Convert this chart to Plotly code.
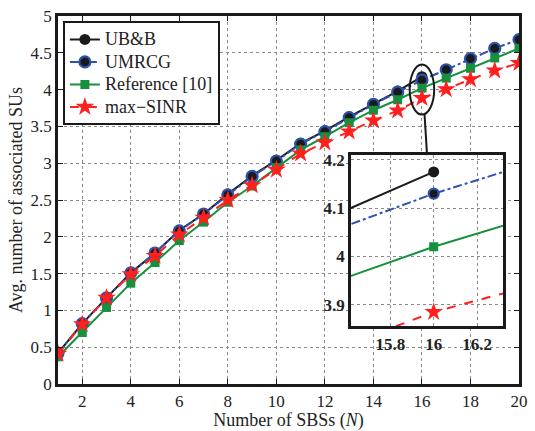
import plotly.graph_objects as go

N_all = list(range(1, 21))
N_ubb = list(range(1, 17))

ubb = [0.42, 0.82, 1.17, 1.51, 1.78, 2.09, 2.31, 2.58, 2.83, 3.04, 3.27, 3.44, 3.63, 3.81, 3.98, 4.175]
umrcg = [0.42, 0.82, 1.17, 1.51, 1.78, 2.08, 2.31, 2.57, 2.82, 3.03, 3.26, 3.43, 3.62, 3.80, 3.965, 4.13, 4.27, 4.42, 4.56, 4.68]
ref10 = [0.37, 0.70, 1.04, 1.37, 1.65, 1.95, 2.20, 2.47, 2.69, 2.94, 3.18, 3.36, 3.55, 3.72, 3.862, 4.02, 4.156, 4.29, 4.43, 4.56]
maxsinr = [0.41, 0.81, 1.17, 1.49, 1.74, 2.03, 2.26, 2.50, 2.70, 2.91, 3.13, 3.28, 3.43, 3.58, 3.715, 3.885, 4.005, 4.14, 4.26, 4.36]

x_ticks = [2, 4, 6, 8, 10, 12, 14, 16, 18, 20]
y_ticks = [0, 0.5, 1, 1.5, 2, 2.5, 3, 3.5, 4, 4.5, 5]
inset_xticks = [15.8, 16, 16.2]
inset_yticks = [3.9, 4, 4.1, 4.2]
inset_xrange = [15.618, 16.32]
inset_yrange = [3.855, 4.211]

BLACK = "#1a1a1a"
BLUE = "#2f52aa"
GREEN = "#14903e"
RED = "#ff1f1f"
SERIF = "Liberation Serif"

series = [
    ("UB&B", N_ubb, ubb, dict(color=BLACK, width=2, dash="solid"),
     dict(symbol="circle", size=11, color=BLACK, line=dict(width=0))),
    ("UMRCG", N_all, umrcg, dict(color=BLUE, width=2, dash="dashdot"),
     dict(symbol="circle", size=11, color=BLACK, line=dict(width=2.2, color=BLUE))),
    ("Reference [10]", N_all, ref10, dict(color=GREEN, width=2, dash="solid"),
     dict(symbol="square", size=9, color=GREEN, line=dict(width=0))),
    ("max\u2212SINR", N_all, maxsinr, dict(color=RED, width=2, dash="dash"),
     dict(symbol="star", size=14, color=RED, line=dict(width=0))),
]

fig = go.Figure()
for name, xs, ys, ln, mk in series:
    label = '<span style="font-size:18px">' + name.replace("&", "&amp;") + "</span>"
    fig.add_trace(go.Scatter(x=xs, y=ys, name=label, mode="lines+markers",
                             line=ln, marker=mk, xaxis="x", yaxis="y"))
for name, xs, ys, ln, mk in series:
    mk2 = dict(mk)
    if name == "UMRCG":
        mk2 = dict(symbol="circle", size=10, color=BLACK, line=dict(width=2.2, color=BLUE))
    fig.add_trace(go.Scatter(x=xs, y=ys, name=name, mode="lines+markers",
                             line=ln, marker=mk2, xaxis="x2", yaxis="y2",
                             showlegend=False))

axis_common = dict(showline=True, linecolor=BLACK, mirror="ticks", ticks="inside",
                   tickcolor=BLACK, showgrid=True, gridcolor="#8a8a8a", griddash="dot",
                   gridwidth=1, zeroline=False,
                   tickfont=dict(family=SERIF, size=17, color="#222"))

fig.update_layout(
    width=535, height=431,
    margin=dict(l=58, r=7, t=13, b=47),
    paper_bgcolor="white", plot_bgcolor="white",
    font=dict(family=SERIF, color="#222"),
    xaxis=dict(axis_common, range=[1, 20], tickvals=x_ticks, linewidth=2.5, ticklen=5,
               title=dict(text="Number of SBSs (<i>N</i>)", font=dict(family=SERIF, size=18), standoff=0)),
    yaxis=dict(axis_common, range=[0, 5], tickvals=y_ticks, linewidth=2.5, ticklen=5,
               title=dict(text="Avg. number of associated SUs", font=dict(family=SERIF, size=18), standoff=4)),
    xaxis2=dict(axis_common, domain=[0.6355, 0.9653], anchor="y2", range=inset_xrange,
                tickvals=inset_xticks, ticktext=["<b>15.8</b>", "<b>16</b>", "<b>16.2</b>"],
                linewidth=2.5, ticklen=0),
    yaxis2=dict(axis_common, domain=[0.1563, 0.6235], anchor="x2", range=inset_yrange,
                tickvals=inset_yticks, ticktext=["<b>3.9</b>", "<b>4</b>", "<b>4.1</b>", "<b>4.2</b>"],
                linewidth=2.5, ticklen=0),
    legend=dict(x=0.0106, y=0.986, xanchor="left", yanchor="top",
                bgcolor="white", bordercolor=BLACK, borderwidth=2,
                font=dict(family=SERIF, size=15, color="#222"),
                tracegroupgap=0, itemwidth=30),
    showlegend=True,
)

# white backing for inset (drawn in inset subplot, below its traces)
fig.add_shape(type="rect", xref="x2", yref="y2",
              x0=inset_xrange[0], x1=inset_xrange[1], y0=inset_yrange[0], y1=inset_yrange[1],
              fillcolor="white", line=dict(width=0), layer="below")
# ellipse around N=16
fig.add_shape(type="circle", xref="x", yref="y", x0=15.495, x1=16.505, y0=3.66, y1=4.34,
              line=dict(color=BLACK, width=2), layer="above")
# connector
fig.add_shape(type="line", xref="x", yref="y", x0=16.107, y0=3.663, x1=16.21, y1=3.11,
              line=dict(color=BLACK, width=2), layer="above")

fig.write_html("out.html")
